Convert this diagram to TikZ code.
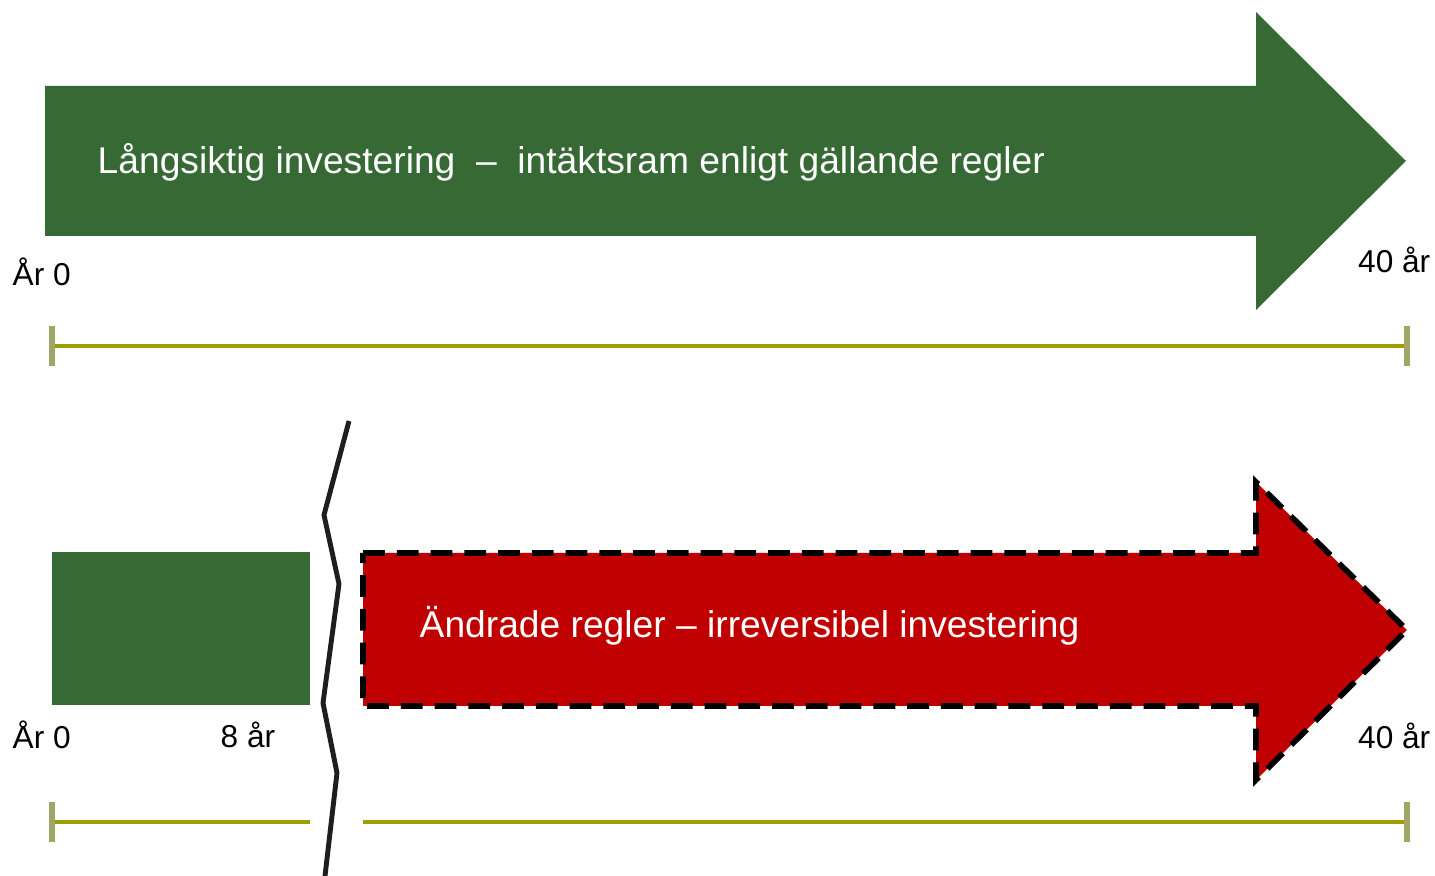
\documentclass[tikz,border=0pt]{standalone}
\usepackage{fontspec}
\setmainfont{Liberation Sans}
\usepackage{tikz}
\usetikzlibrary{calc}
\definecolor{skog}{RGB}{55,105,53}
\definecolor{rod}{RGB}{192,0,0}
\definecolor{oliv}{RGB}{158,158,0}
\definecolor{tickoliv}{RGB}{160,167,102}
\definecolor{brytsvart}{RGB}{30,30,30}

\begin{document}
\begin{tikzpicture}[x=0.01cm,y=-0.01cm,
    timeline/.style={oliv, line width=1.15pt},
    tickmark/.style={tickoliv, line width=1.7pt},
    big/.style={white, inner sep=0, anchor=base west, font=\fontsize{10.58}{12}\selectfont},
    yearlbl/.style={black, inner sep=0, font=\fontsize{9}{11}\selectfont}]
    \useasboundingbox (0,0) rectangle (1435,876);

%the long term arrow
    \draw[fill=skog, draw=none] (45,86) -- (1256,86) -- (1256,12) -- (1406,161) -- (1256,310) -- (1256,236) -- (45,236) -- cycle;
    \node[big] (langsiktig) at (97,174) {Långsiktig investering\ \ –\ \ intäktsram enligt gällande regler};
    \node[yearlbl, anchor=base west] (ar0a) at (12,286) {År 0};
    \node[yearlbl, anchor=base east] (ar40a) at (1431,273) {40 år};

% top time axis
    \coordinate (ta) at (52,346);
    \coordinate (tb) at (1407,346);
    \draw[timeline] (ta) -- (tb);
    \foreach \p in {ta,tb}
      \draw[tickmark] ($(\p)+(0,-20)$) -- ($(\p)+(0,20)$);

% the first 8 years
    \draw[fill=skog, draw=none] (52,552) rectangle (310,705);
% changed rules, dashed arrow
    \draw[fill=rod, draw=black, line width=1.6pt, dash pattern=on 6.2pt off 3.4pt]
      (363,553) -- (1256,553) -- (1256,482) -- (1407,630) -- (1256,780) -- (1256,706) -- (363,706) -- cycle;
    \node[big] (andrade) at (419,638) {Ändrade regler – irreversibel investering};
    \node[yearlbl, anchor=base west] (ar0b) at (12,749) {År 0};
    \node[yearlbl, anchor=base west] (ar8) at (220,748) {8 år};
    \node[yearlbl, anchor=base east] (ar40b) at (1431,749) {40 år};

% the break
    \draw[brytsvart, line width=1.4pt, line join=miter] (349,421) -- (324,515) -- (339,584) -- (323,703) -- (337,773) -- (325,876);

% lower time axis
    \coordinate (la) at (52,822);
    \coordinate (lb) at (310,822);
    \coordinate (lc) at (363,822);
    \coordinate (ld) at (1407,822);
    \draw[timeline] (la) -- (lb);
    \draw[timeline] (lc) -- (ld);
    \foreach \p in {la,ld}
      \draw[tickmark] ($(\p)+(0,-20)$) -- ($(\p)+(0,20)$);
\end{tikzpicture}
\end{document}
